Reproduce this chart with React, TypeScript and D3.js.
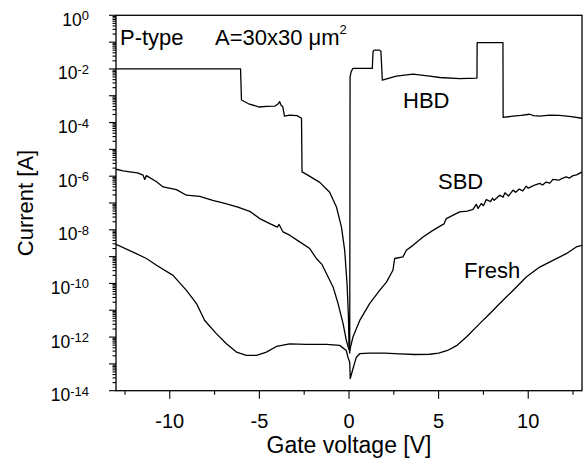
import React, { useEffect, useRef } from 'react';
import * as d3 from 'd3';

// points: [gate voltage (V), log10 of current (A)]
const hbd: [number, number][] = [
  [-13, -2.0], [-6.05, -2.0], [-6.0, -3.16], [-5.6, -3.3], [-5.0, -3.42], [-4.6, -3.4],
  [-4.14, -3.39], [-3.95, -3.3], [-3.87, -3.22], [-3.78, -3.36], [-3.7, -3.4], [-3.6, -3.76],
  [-3.3, -3.72], [-2.9, -3.74], [-2.65, -3.84], [-2.62, -5.84], [-2.3, -5.96], [-1.63, -6.23],
  [-1.08, -6.6], [-0.7, -7.15], [-0.42, -7.9], [-0.24, -8.77], [-0.11, -10.0], [-0.03, -11.26],
  [0.0, -12.3], [0.04, -12.6], [0.06, -2.3], [0.12, -2.1], [0.22, -1.98], [1.3, -1.98],
  [1.34, -1.36], [1.4, -1.3], [1.7, -1.3], [1.78, -1.34], [1.86, -2.42], [2.2, -2.35],
  [2.64, -2.27], [3.57, -2.19], [4.5, -2.27], [5.06, -2.32], [6.17, -2.36], [7.14, -2.34],
  [7.15, -1.02], [8.59, -1.02], [8.6, -3.81], [9.15, -3.76], [9.6, -3.73], [10.08, -3.69],
  [10.3, -3.74], [10.64, -3.76], [11.2, -3.72], [11.75, -3.73], [12.4, -3.78], [13, -3.84],
];

const sbd: [number, number][] = [
  [-13, -5.74], [-12.6, -5.8], [-12.23, -5.84], [-11.8, -5.88], [-11.49, -5.96], [-11.4, -6.12],
  [-11.3, -5.98], [-10.74, -6.21], [-10.37, -6.4], [-9.63, -6.5], [-9.07, -6.71], [-8.33, -6.75],
  [-7.6, -6.9], [-6.93, -7.01], [-6.2, -7.15], [-5.54, -7.31], [-4.98, -7.58], [-4.42, -7.77],
  [-4.0, -7.9], [-3.9, -7.8], [-3.68, -8.08], [-3.31, -8.2], [-2.75, -8.45], [-2.19, -8.7],
  [-1.82, -9.07], [-1.5, -9.3], [-1.26, -9.63], [-0.89, -10.13], [-0.61, -10.75], [-0.33, -11.5],
  [-0.15, -12.12], [-0.02, -12.43], [0.04, -12.5], [0.22, -12.0], [0.6, -11.38], [1.15, -10.75],
  [1.71, -10.26], [2.09, -9.95], [2.45, -9.51], [2.55, -9.07], [3.01, -9.01], [3.2, -8.76],
  [3.57, -8.58], [4.13, -8.27], [4.68, -8.02], [5.3, -7.78], [5.43, -7.58], [6.17, -7.33],
  [6.6, -7.3], [6.92, -7.24], [7.1, -7.05], [7.2, -7.2], [7.38, -7.02], [7.5, -7.1],
  [7.66, -6.87], [7.9, -6.95], [8.0, -6.82], [8.1, -6.9], [8.41, -6.71], [8.6, -6.78],
  [8.7, -6.62], [8.9, -6.74], [9.15, -6.52], [9.3, -6.6], [9.5, -6.48], [9.7, -6.55],
  [9.89, -6.37], [10.0, -6.45], [10.2, -6.38], [10.4, -6.32], [10.64, -6.27], [10.8, -6.33],
  [11.0, -6.22], [11.2, -6.26], [11.38, -6.12], [11.7, -6.15], [11.9, -6.08], [12.12, -6.03],
  [12.3, -6.07], [12.5, -5.98], [12.7, -5.95], [13, -5.84],
];

const fresh: [number, number][] = [
  [-13, -8.54], [-12.05, -8.83], [-11.3, -9.07], [-10.74, -9.32], [-9.82, -9.7], [-9.07, -10.26],
  [-8.51, -10.75], [-8.05, -11.38], [-7.4, -11.87], [-6.84, -12.25], [-6.28, -12.56],
  [-5.72, -12.68], [-5.16, -12.68], [-4.61, -12.56], [-4.05, -12.35], [-3.31, -12.25],
  [-2.38, -12.27], [-1.26, -12.27], [-0.52, -12.31], [-0.15, -12.5], [-0.06, -12.75],
  [0.04, -12.94], [0.07, -13.55], [0.22, -13.18], [0.41, -12.75], [0.6, -12.62], [1.15, -12.6],
  [1.99, -12.6], [2.83, -12.63], [3.66, -12.65], [4.5, -12.64], [5.0, -12.6], [5.5, -12.5],
  [6.0, -12.32], [6.55, -12.0], [7.29, -11.5], [7.85, -11.13], [8.41, -10.75], [9.15, -10.26],
  [9.89, -9.76], [10.64, -9.39], [11.38, -9.14], [12.12, -8.89], [12.68, -8.64], [13, -8.58],
];

const xMajorTicks = [-10, -5, 0, 5, 10];
const xMinorTicks = [-12.5, -7.5, -2.5, 2.5, 7.5, 12.5];
const yDecades = d3.range(-14, 1);
const yLabelExps = [0, -2, -4, -6, -8, -10, -12, -14];

const curves = [
  { name: 'HBD', data: hbd, x: 403, y: 108 },
  { name: 'SBD', data: sbd, x: 438, y: 189 },
  { name: 'Fresh', data: fresh, x: 464, y: 278 },
];

const FONT = '"Liberation Sans", Arial, sans-serif';

export default function App() {
  const ref = useRef<SVGSVGElement>(null);

  useEffect(() => {
    const svg = d3.select(ref.current);
    svg.selectAll('*').remove();

    const left = 116, right = 582, top = 15.3, bottom = 390.7;

    const x = d3.scaleLinear().domain([-13, 13]).range([left, right]);
    const y = d3.scaleLog().domain([1e-14, 1]).range([bottom, top]);

    svg.append('clipPath').attr('id', 'plot-clip')
      .append('rect').attr('x', left).attr('y', top)
      .attr('width', right - left).attr('height', bottom - top);

    const line = d3.line<[number, number]>()
      .x((d) => x(d[0]))
      .y((d) => y(Math.pow(10, d[1])));

    curves.forEach((c) => {
      svg.append('path')
        .attr('d', line(c.data))
        .attr('fill', 'none')
        .attr('stroke', '#000')
        .attr('stroke-width', 1.3)
        .attr('stroke-linejoin', 'round')
        .attr('clip-path', 'url(#plot-clip)');
      svg.append('text')
        .attr('x', c.x).attr('y', c.y)
        .attr('font-family', FONT).attr('font-size', 22)
        .text(c.name);
    });

    // frame
    svg.append('rect')
      .attr('x', left).attr('y', top)
      .attr('width', right - left).attr('height', bottom - top)
      .attr('fill', 'none').attr('stroke', '#000').attr('stroke-width', 1.3);

    // x ticks
    const tickG = svg.append('g').attr('stroke', '#000').attr('stroke-width', 1.1);
    xMajorTicks.forEach((v) => {
      tickG.append('line').attr('x1', x(v)).attr('x2', x(v)).attr('y1', bottom).attr('y2', bottom + 8);
    });
    xMinorTicks.forEach((v) => {
      tickG.append('line').attr('x1', x(v)).attr('x2', x(v)).attr('y1', bottom).attr('y2', bottom + 4);
    });
    xMajorTicks.forEach((v) => {
      svg.append('text')
        .attr('x', x(v)).attr('y', 428)
        .attr('text-anchor', 'middle')
        .attr('font-family', FONT).attr('font-size', 20)
        .text(String(v));
    });

    // y ticks
    yDecades.forEach((e) => {
      const yy = y(Math.pow(10, e));
      tickG.append('line').attr('x1', left - 7).attr('x2', left).attr('y1', yy).attr('y2', yy);
      if (e < 0) {
        d3.range(2, 10).forEach((m) => {
          const ym = y(m * Math.pow(10, e));
          tickG.append('line').attr('x1', left - 3.5).attr('x2', left).attr('y1', ym).attr('y2', ym);
        });
      }
    });
    yLabelExps.forEach((e) => {
      const t = svg.append('text')
        .attr('x', 89).attr('y', y(Math.pow(10, e)) + 10.5)
        .attr('text-anchor', 'end')
        .attr('font-family', FONT).attr('font-size', 17.5);
      t.append('tspan').text('10');
      t.append('tspan').attr('dy', -5.5).attr('font-size', 13).text(String(e));
    });

    // axis titles
    svg.append('text')
      .attr('x', (left + right) / 2).attr('y', 453)
      .attr('text-anchor', 'middle')
      .attr('font-family', FONT).attr('font-size', 23)
      .text('Gate voltage [V]');
    svg.append('text')
      .attr('transform', `translate(33,${(top + bottom) / 2}) rotate(-90)`)
      .attr('text-anchor', 'middle')
      .attr('font-family', FONT).attr('font-size', 22)
      .text('Current [A]');

    // annotation
    svg.append('text')
      .attr('x', 120).attr('y', 45)
      .attr('font-family', FONT).attr('font-size', 22)
      .text('P-type');
    const area = svg.append('text')
      .attr('x', 215).attr('y', 45)
      .attr('font-family', FONT).attr('font-size', 22);
    area.append('tspan').text('A=30x30 \u03bcm');
    area.append('tspan').attr('dy', -11).attr('font-size', 13).text('2');
  }, []);

  return (
    <svg
      ref={ref}
      width={587}
      height={458}
      style={{ position: 'absolute', left: 0, top: 0, background: '#fff' }}
    />
  );
}
